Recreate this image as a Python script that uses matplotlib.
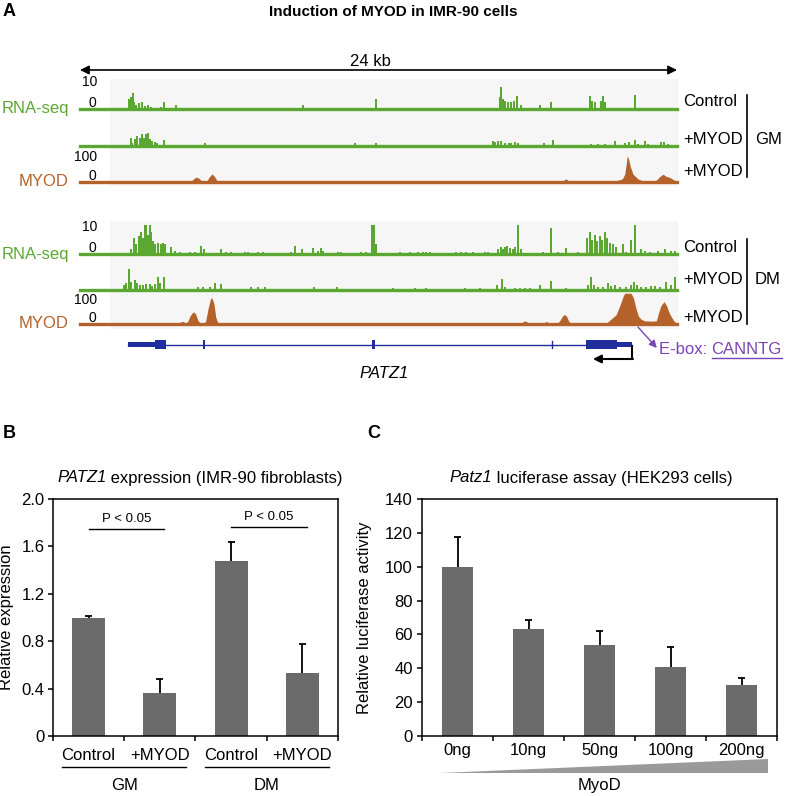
import matplotlib
matplotlib.use('Agg')
import matplotlib.pyplot as plt
import numpy as np
from matplotlib.patches import Rectangle, Polygon
from matplotlib.lines import Line2D

plt.rcParams['font.family'] = ['Liberation Sans', 'DejaVu Sans']

# ---------------- panel A: browser tracks, (position in kb, signal) ----------------
gm_ctrl_rna = [(1.30, .4), (1.96, 3.8), (2.00, 3.1), (2.06, 4.6), (2.13, 6.2), (2.17, 2.7), (2.26, 1.5),
               (2.36, 2.3), (2.49, 2.7), (2.60, 1.0), (2.73, 1.5), (2.84, .8), (3.00, .5), (3.27, .8),
               (3.38, 2.7), (3.87, 1.5), (4.98, .4), (5.48, .4), (5.68, .4), (6.02, .4), (6.89, .4),
               (7.16, .4), (7.49, .4), (8.96, 1.5), (9.86, .4), (10.67, .4), (10.88, .4), (11.91, 3.8),
               (14.59, .4), (14.79, .4), (15.67, .4), (15.87, .4), (16.13, .4), (16.37, .4), (16.87, 4.6),
               (16.94, 8.5), (17.00, 3.8), (17.10, 3.1), (17.21, 2.7), (17.31, 2.7), (17.45, 3.1),
               (17.58, 5.0), (17.72, 1.5), (18.48, 1.5), (18.95, 2.7), (19.42, .4), (20.49, 5.0),
               (20.58, 3.1), (20.69, 2.7), (20.93, 3.1), (21.03, 5.0), (21.12, 2.7), (21.36, .4),
               (21.50, .4), (21.76, .4), (21.96, .4), (22.10, .4), (22.32, 5.2), (22.83, .4), (22.97, .4),
               (23.10, .4), (23.64, .4), (23.84, .4)]
gm_myod_rna = [(2.04, 3.1), (2.09, 1.0), (2.20, 2.6), (2.30, 3.8), (2.40, 3.2), (2.49, 4.5), (2.57, 3.2),
               (2.67, 4.5), (2.73, 5.1), (2.80, 2.6), (2.89, 1.9), (3.00, 1.5), (3.11, 1.3), (3.38, 2.3),
               (3.74, .4), (4.31, .4), (4.61, .4), (4.81, .4), (5.01, 1.3), (5.21, .4), (5.68, .4),
               (6.06, .4), (8.09, .4), (8.23, .4), (9.03, .4), (9.23, .4), (9.77, .4), (11.04, 1.3),
               (11.91, 1.3), (15.73, .4), (16.60, 1.9), (16.70, 1.5), (16.80, 1.9), (16.94, 1.9),
               (17.07, 1.3), (17.23, 1.3), (17.34, 1.0), (17.50, 1.5), (17.61, 1.3), (18.08, .4),
               (18.65, 1.3), (18.75, .4), (19.02, 2.3), (19.42, .4), (20.42, .4), (20.56, .6), (20.69, .4),
               (20.82, .6), (20.96, .4), (21.09, .6), (21.23, .4), (21.52, 1.9), (21.63, .4), (21.90, 1.3),
               (22.06, 1.5), (22.30, 2.3), (22.43, .6), (22.70, 1.9), (22.83, .6), (23.10, .4), (23.37, 1.5),
               (23.48, 1.5), (23.64, .6)]
gm_myod_chip = [(0, 0), (4.40, 0), (4.50, 6), (4.60, 15), (4.68, 19), (4.78, 14), (4.88, 5), (4.98, 1),
                (5.10, 4), (5.20, 20), (5.31, 31), (5.40, 22), (5.50, 6), (5.60, 0), (8.15, 0), (8.20, 2),
                (8.25, 0), (18.35, 0), (18.45, 2), (18.60, 2), (18.70, 0), (19.40, 0), (19.47, 9),
                (19.53, 12), (19.60, 8), (19.68, 0), (20.20, 0), (20.30, 1), (21.20, 1), (21.36, 4),
                (21.60, 6), (21.80, 12), (21.90, 30), (21.96, 70), (22.00, 100), (22.05, 90), (22.12, 60),
                (22.23, 30), (22.43, 12), (22.63, 4), (23.00, 3), (23.15, 6), (23.30, 20), (23.44, 30),
                (23.55, 22), (23.70, 18), (23.84, 10), (23.95, 3), (24.0, 2)]
dm_ctrl_rna = [(1.26, .4), (1.60, .4), (2.06, 1.8), (2.17, 6.2), (2.26, 3.7), (2.36, 6.8), (2.46, 8.6),
               (2.53, 6.2), (2.60, 11), (2.67, 11), (2.73, 7.4), (2.80, 11), (2.87, 8.6), (2.93, 4.9),
               (3.03, 3.7), (3.14, 4.3), (3.24, 3.7), (3.34, 4.3), (3.43, 3.7), (3.67, 2.5), (3.81, 1.2),
               (4.01, .6), (4.41, .6), (4.61, .6), (4.88, 3.1), (4.98, 1.8), (5.68, 1.8), (5.88, .6),
               (6.08, .6), (6.62, .6), (6.75, .6), (7.16, .6), (7.36, .6), (8.49, .6), (8.63, 3.1),
               (8.92, 1.8), (9.37, 2.2), (9.57, 1.2), (9.68, 2.2), (9.77, 1.2), (10.37, .6), (10.50, .6),
               (11.31, .6), (11.51, .6), (11.74, 11), (11.82, 11), (11.91, 3.7), (12.85, .6), (13.25, .6),
               (13.59, .6), (13.79, .9), (13.92, .9), (14.06, .6), (15.13, .6), (15.33, .6), (15.53, .6),
               (15.80, .6), (16.27, .6), (16.40, .6), (16.80, 1.8), (16.91, 2.7), (17.01, 1.8),
               (17.10, 2.5), (17.18, 3.1), (17.27, 2.2), (17.41, 1.8), (17.50, 2.5), (17.61, 11),
               (17.72, 1.8), (18.61, .6), (18.95, 10), (19.22, .6), (19.55, 2.2), (20.02, .6), (20.39, 6.2),
               (20.49, 8.6), (20.58, 5.5), (20.69, 7.4), (20.80, 4.9), (20.89, 6.8), (20.98, 5.5),
               (21.09, 8.6), (21.20, 6.2), (21.29, 4.3), (21.43, 3.7), (21.56, 2.5), (21.83, 3.7),
               (21.96, .6), (22.16, 5.5), (22.30, 11), (22.56, 1.8), (22.70, 1.0), (22.90, .6), (23.24, 1.0),
               (23.51, 1.8), (23.77, 1.0), (23.91, 1.2)]
dm_myod_rna = [(1.77, 1.8), (1.86, 2.5), (1.96, 8.1), (2.04, 3.1), (2.20, 3.7), (2.30, 2.5), (2.40, 1.8),
               (2.53, 1.8), (2.67, 2.2), (2.80, 2.2), (2.89, 1.5), (3.00, 2.2), (3.14, 4.9), (3.20, 2.5),
               (3.38, 4.9), (4.74, 1.2), (4.94, 1.2), (5.21, 1.2), (5.42, 2.5), (5.66, 2.2), (6.89, 1.0),
               (7.16, 1.0), (7.42, 1.0), (9.41, 1.0), (10.34, 1.0), (12.58, .6), (13.46, .6), (13.92, .6),
               (15.49, .6), (16.07, .6), (16.78, 1.8), (16.96, 4.3), (17.07, 1.2), (17.48, .6), (17.68, .6),
               (17.88, .6), (18.08, .6), (18.48, 1.8), (18.95, 3.5), (19.55, .6), (20.42, 1.8), (20.56, 4.9),
               (20.66, 1.8), (20.82, 1.2), (21.03, 1.0), (21.23, 2.5), (21.33, 1.5), (21.49, 1.8),
               (21.70, 1.2), (21.96, 1.0), (22.16, 1.8), (22.27, 3.1), (22.40, 1.8), (22.56, 1.2),
               (22.77, 1.2), (22.97, 1.5), (23.10, 1.5), (23.30, 1.2), (23.57, 3.1), (23.75, 1.8), (23.91, 4.9)]
dm_myod_chip = [(0, 0), (3.10, 0), (3.20, 3), (3.50, 3), (3.70, 4), (3.90, 2), (4.05, 8), (4.14, 10),
                (4.22, 4), (4.32, 8), (4.42, 30), (4.52, 44), (4.57, 46), (4.65, 38), (4.75, 12), (4.85, 3),
                (4.95, 2), (5.05, 10), (5.15, 60), (5.25, 98), (5.30, 100), (5.38, 80), (5.46, 25), (5.55, 3),
                (5.65, 0), (12.90, 0), (13.30, 1), (13.39, 4), (13.50, 1), (15.50, 1), (15.67, 4), (15.80, 1),
                (17.70, 1), (17.80, 8), (17.88, 12), (17.98, 8), (18.10, 2), (18.60, 2), (18.75, 10),
                (18.85, 3), (19.20, 2), (19.30, 15), (19.42, 33), (19.48, 36), (19.56, 30), (19.65, 10),
                (19.75, 2), (21.00, 2), (21.20, 6), (21.36, 20), (21.55, 35), (21.70, 70), (21.85, 110),
                (21.90, 118), (22.15, 118), (22.25, 100), (22.35, 60), (22.45, 30), (22.56, 18), (22.70, 12),
                (23.00, 11), (23.17, 12), (23.25, 40), (23.35, 70), (23.48, 86), (23.58, 70), (23.70, 40),
                (23.85, 15), (23.95, 4), (24.0, 2)]

# PATZ1 gene model (kb)
patz1_span = (1.94, 22.20)
patz1_utr = [(1.94, 3.02), (21.60, 22.20)]
patz1_cds = [(3.02, 3.44), (4.93, 5.01), (11.74, 11.86), (20.34, 21.60)]
patz1_tiny_exon = [18.96]
tss_arrow = (22.20, 20.62)
ebox_from = 22.43
ebox_to = 23.19

# ---------------- panel B ----------------
b_labels = ['Control', '+MYOD', 'Control', '+MYOD']
b_groups = ['GM', 'DM']
b_values = [1.00, 0.36, 1.48, 0.535]
b_errors = [0.01, 0.125, 0.16, 0.24]
b_sig = [(0, 1, 1.745, 'P < 0.05'), (2, 3, 1.76, 'P < 0.05')]

# ---------------- panel C ----------------
c_labels = ['0ng', '10ng', '50ng', '100ng', '200ng']
c_values = [100, 63.3, 53.6, 40.8, 30.2]
c_errors = [17.8, 5.1, 8.5, 11.7, 4.3]

GREEN = '#5aa832'
BROWN = '#b5622a'
BLUE = '#1f2e9c'
PURPLE = '#7a44b4'
BG = '#f6f6f6'
BAR = '#6b6b6b'
FS = 12

W, H = 785, 796
fig = plt.figure(figsize=(W / 100, H / 100), dpi=100)
renderer = fig.canvas.get_renderer()


def fbox(x0, y0, x1, y1):
    return [x0 / W, 1 - y1 / H, (x1 - x0) / W, (y1 - y0) / H]


def ftext(x, y, s, **kw):
    kw.setdefault('fontsize', FS)
    kw.setdefault('va', 'center')
    return fig.text(x / W, 1 - y / H, s, **kw)


def fline(xs, ys, **kw):
    fig.add_artist(Line2D([x / W for x in xs], [1 - y / H for y in ys], **kw))


def mixed_title(xc, y, italic, rest):
    # italic gene name followed by upright text, centred together on xc
    t1 = ftext(0, y, italic, style='italic')
    t2 = ftext(0, y, rest)
    w1 = t1.get_window_extent(renderer).width
    w2 = t2.get_window_extent(renderer).width
    x0 = xc - (w1 + w2) / 2
    t1.set_x(x0 / W)
    t2.set_x((x0 + w1) / W)


# base axes of panel A: x in kb, y in pixel rows
axA = fig.add_axes(fbox(80, 0, 677, 400))
axA.set_xlim(0, 24)
axA.set_ylim(400, 0)
axA.axis('off')
for top, bottom in [(79, 186), (221, 329)]:
    axA.add_patch(Rectangle((1.2, top), 22.85, bottom - top, fc=BG, ec='none', clip_on=False))
axA.annotate('', xy=(0, 70), xytext=(24, 70),
             arrowprops=dict(arrowstyle='<|-|>', color='k', lw=1.2, mutation_scale=13,
                             shrinkA=0, shrinkB=0))

# gene model
yg = 345
axA.plot(patz1_span, [yg, yg], color=BLUE, lw=1)
for s, e in patz1_utr:
    axA.add_patch(Rectangle((s, yg - 2.5), e - s, 5, fc=BLUE, ec='none'))
for s, e in patz1_cds:
    axA.add_patch(Rectangle((s, yg - 4.5), e - s, 9, fc=BLUE, ec='none'))
for x in patz1_tiny_exon:
    axA.plot([x, x], [yg - 3.5, yg + 3.5], color=BLUE, lw=1)
axA.plot([tss_arrow[0], tss_arrow[0]], [yg, 359], color='k', lw=1.5, solid_capstyle='butt')
axA.annotate('', xy=(tss_arrow[1], 359), xytext=(tss_arrow[0] + 0.03, 359),
             arrowprops=dict(arrowstyle='-|>', color='k', lw=1.5, mutation_scale=12,
                             shrinkA=0, shrinkB=0))
axA.annotate('', xy=(ebox_to, 348), xytext=(ebox_from, 327), annotation_clip=False,
             arrowprops=dict(arrowstyle='-|>', color=PURPLE, lw=1, mutation_scale=11,
                             shrinkA=0, shrinkB=0))


def rna_track(y_base, data):
    ax = fig.add_axes(fbox(80, y_base - 30, 677, y_base))
    ax.set_xlim(0, 24)
    ax.set_ylim(0, 11.5)
    ax.axis('off')
    x, h = zip(*data)
    ax.bar(x, h, width=0.085, color=GREEN, linewidth=0)
    ax.axhline(0, color=GREEN, lw=2.4, clip_on=False)


def chip_track(y_base, data):
    ax = fig.add_axes(fbox(80, y_base - 31, 677, y_base))
    ax.set_xlim(0, 24)
    ax.set_ylim(0, 119)
    ax.axis('off')
    x, h = zip(*data)
    ax.fill_between(x, h, color=BROWN, lw=0)
    ax.axhline(0, color=BROWN, lw=2.4, clip_on=False)


rna_track(109, gm_ctrl_rna)
rna_track(146, gm_myod_rna)
chip_track(182, gm_myod_chip)
rna_track(254, dm_ctrl_rna)
rna_track(290, dm_myod_rna)
chip_track(324, dm_myod_chip)

# panel A text
ftext(3, 11, 'A', fontsize=13, fontweight='bold')
ftext(393, 12, 'Induction of MYOD in IMR-90 cells', fontsize=11, fontweight='bold', ha='center')
ftext(370, 61, '24 kb', ha='center')
for yb, yt in [(109, 82), (254, 227)]:
    ftext(69, yb, 'RNA-seq', color=GREEN, ha='right')
    ftext(97, yt, '10', fontsize=10, ha='right')
    ftext(96, yb - 6, '0', fontsize=10, ha='right')
for yb, yt in [(182, 157), (324, 300)]:
    ftext(69, yb, 'MYOD', color=BROWN, ha='right')
    ftext(97, yt, '100', fontsize=10, ha='right')
    ftext(96, yb - 6, '0', fontsize=10, ha='right')
for ys, (y0, y1), yg_, grp in [((102, 139, 172), (95, 177), 139, 'GM'),
                                ((247, 280, 317), (239, 324), 280, 'DM')]:
    for y, lab in zip(ys, ['Control', '+MYOD', '+MYOD']):
        ftext(683, y, lab)
    fline([747, 747], [y0, y1], color='k', lw=1.2)
    ftext(755, yg_, grp)
ftext(384, 373, 'PATZ1', style='italic', ha='center')
ftext(659, 350, 'E-box: ', color=PURPLE)
ftext(711, 350, 'CANNTG', color=PURPLE)
fline([712, 782], [357.5, 357.5], color=PURPLE, lw=1)


def style_axes(ax):
    for sp in ax.spines.values():
        sp.set_linewidth(1.1)
    ax.tick_params(axis='both', which='major', direction='out', length=3.5, width=1.1,
                   labelsize=FS, pad=2.5, top=False, right=False)


def upper_errors(ax, x, vals, errs, cap):
    tops = np.asarray(vals) + np.asarray(errs)
    ax.vlines(x, vals, tops, color='k', lw=1.3, zorder=3)
    ax.hlines(tops, x - cap, x + cap, color='k', lw=1.3, zorder=3)


# ---------------- panel B ----------------
axB = fig.add_axes(fbox(53, 499, 338, 736))
xb = np.arange(len(b_values))
axB.bar(xb, b_values, width=0.46, color=BAR, zorder=2)
upper_errors(axB, xb, b_values, b_errors, 0.05)
axB.set_xlim(-0.5, len(b_values) - 0.5)
axB.set_ylim(0, 2.0)
axB.set_yticks([0, 0.4, 0.8, 1.2, 1.6, 2.0], ['0', '0.4', '0.8', '1.2', '1.6', '2.0'])
axB.set_xticks(np.arange(-0.5, len(b_values), 1), [])
axB.set_xticks(xb, b_labels, minor=True)
style_axes(axB)
axB.tick_params(axis='x', which='minor', length=0, pad=9, labelsize=FS)
axB.set_ylabel('Relative expression', fontsize=FS)
axB.yaxis.set_label_coords(-0.137, 0.5)
tb = axB.get_xaxis_transform()
for k, grp in enumerate(b_groups):
    c = 2 * k + 0.5
    axB.plot([c - 0.87, c + 0.87], [-0.131, -0.131], color='k', lw=1, transform=tb, clip_on=False)
    axB.text(c, -0.207, grp, transform=tb, ha='center', va='center', fontsize=FS)
for i, j, y, txt in b_sig:
    axB.plot([i, j + 0.06], [y, y], color='k', lw=1)
    axB.text((i + j + 0.06) / 2, y + 0.085, txt, ha='center', va='center', fontsize=9.5)
mixed_title(200, 478, 'PATZ1', ' expression (IMR-90 fibroblasts)')
ftext(3, 434, 'B', fontsize=13, fontweight='bold')

# ---------------- panel C ----------------
axC = fig.add_axes(fbox(422, 499, 777, 736))
xc = np.arange(len(c_values))
axC.bar(xc, c_values, width=0.45, color=BAR, zorder=2)
upper_errors(axC, xc, c_values, c_errors, 0.05)
axC.set_xlim(-0.5, len(c_values) - 0.5)
axC.set_ylim(0, 140)
axC.set_yticks(np.arange(0, 141, 20))
axC.set_xticks(np.arange(-0.5, len(c_values), 1), [])
axC.set_xticks(xc, c_labels, minor=True)
style_axes(axC)
axC.tick_params(axis='y', pad=3)
axC.tick_params(axis='x', which='minor', length=0, pad=5, labelsize=FS)
axC.set_ylabel('Relative luciferase activity', fontsize=FS)
axC.yaxis.set_label_coords(-0.141, 0.5)
tc = axC.get_xaxis_transform()
axC.add_patch(Polygon([(-0.25, -0.156), (4.37, -0.156), (4.37, -0.097)], closed=True,
                      fc='#9a9a9a', ec='none', transform=tc, clip_on=False))
axC.text(2.0, -0.207, 'MyoD', transform=tc, ha='center', va='center', fontsize=FS)
mixed_title(591, 478, 'Patz1', ' luciferase assay (HEK293 cells)')
ftext(367, 434, 'C', fontsize=13, fontweight='bold')

fig.savefig('out.png', dpi=100)
